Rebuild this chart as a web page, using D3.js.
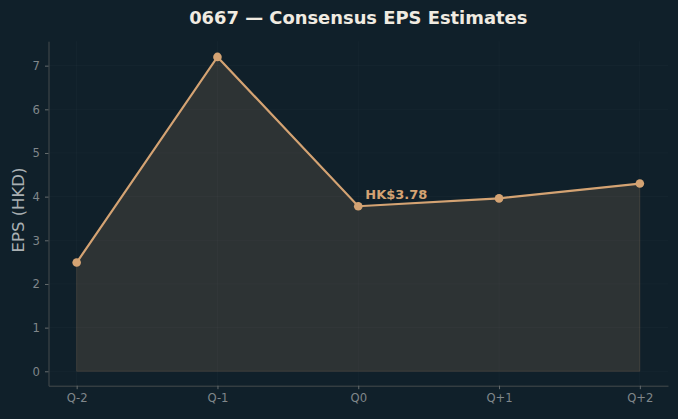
<!DOCTYPE html>
<html>
<head>
<meta charset="utf-8">
<script src="https://cdn.jsdelivr.net/npm/d3@7"></script>
<style>
  body { margin: 0; background: #10202a; }
  svg { display: block; font-family: "DejaVu Sans", sans-serif; }
</style>
</head>
<body>
<svg id="chart" width="678" height="419"></svg>
<script>
// chart data
const quarters = ["Q-2", "Q-1", "Q0", "Q+1", "Q+2"];
const epsValues = [2.49, 7.2, 3.78, 3.96, 4.30];
const yTicks = [0, 1, 2, 3, 4, 5, 6, 7];
const highlightIndex = 2;
const highlightLabel = "HK$3.78";

let svg = d3.select("#chart");
let plotLeft = 48.5, plotRight = 668, plotTop = 41.2, plotBottom = 385.7;
let lineColor = "#d4a373";

let xScale = d3.scaleLinear()
    .domain([-0.2, quarters.length - 1 + 0.2])
    .range([plotLeft, plotRight]);

let yMax = d3.max(epsValues);
let yScale = d3.scaleLinear()
    .domain([-0.33, yMax + 0.36])
    .range([plotBottom, plotTop]);

svg.append("rect")
    .attr("width", 678).attr("height", 419)
    .attr("fill", "#10202a");

// grid
svg.append("g")
    .selectAll("line")
    .data(yTicks)
    .enter().append("line")
    .attr("x1", plotLeft).attr("x2", plotRight)
    .attr("y1", d => yScale(d)).attr("y2", d => yScale(d))
    .attr("stroke", "#ffffff").attr("stroke-opacity", 0.025);
svg.append("g")
    .selectAll("line")
    .data(quarters)
    .enter().append("line")
    .attr("x1", (d, i) => xScale(i)).attr("x2", (d, i) => xScale(i))
    .attr("y1", plotTop).attr("y2", plotBottom)
    .attr("stroke", "#ffffff").attr("stroke-opacity", 0.025);

// area under line
let area = d3.area()
    .x((d, i) => xScale(i))
    .y0(yScale(0))
    .y1(d => yScale(d));
svg.append("path")
    .datum(epsValues)
    .attr("d", area)
    .attr("fill", lineColor).attr("fill-opacity", 0.15)
    .attr("stroke", lineColor).attr("stroke-opacity", 0.15);

// line
let line = d3.line()
    .x((d, i) => xScale(i))
    .y(d => yScale(d));
svg.append("path")
    .datum(epsValues)
    .attr("d", line)
    .attr("fill", "none")
    .attr("stroke", lineColor)
    .attr("stroke-width", 2.2);

svg.selectAll("circle")
    .data(epsValues)
    .enter().append("circle")
    .attr("cx", (d, i) => xScale(i))
    .attr("cy", d => yScale(d))
    .attr("r", 4.3)
    .attr("fill", lineColor);

// annotation
svg.append("text")
    .attr("x", xScale(highlightIndex) + 7)
    .attr("y", yScale(epsValues[highlightIndex]) - 7.5)
    .attr("fill", lineColor)
    .attr("font-size", 13)
    .attr("font-weight", "bold")
    .text(highlightLabel);

// axes
let xAxis = svg.append("g")
    .attr("transform", `translate(0,${plotBottom})`)
    .call(d3.axisBottom(xScale)
        .tickValues(d3.range(quarters.length))
        .tickFormat(i => quarters[i])
        .tickSize(3.5).tickPadding(5).tickSizeOuter(0));
let yAxis = svg.append("g")
    .attr("transform", `translate(${plotLeft},0)`)
    .call(d3.axisLeft(yScale)
        .tickValues(yTicks)
        .tickSize(3.5).tickPadding(5).tickSizeOuter(0));

[xAxis, yAxis].forEach(ax => {
    ax.select(".domain").attr("stroke", "#444a4c").attr("stroke-width", 1);
    ax.selectAll(".tick line").attr("stroke", "#666c6e");
    ax.selectAll(".tick text")
        .attr("fill", "#80878b")
        .attr("font-size", 11.6)
        .attr("font-family", "DejaVu Sans, sans-serif");
});

// labels
svg.append("text")
    .attr("transform", "rotate(-90)")
    .attr("x", -210)
    .attr("y", 23.5)
    .attr("text-anchor", "middle")
    .attr("fill", "#aab0b3")
    .attr("font-size", 16.5)
    .text("EPS (HKD)");

svg.append("text")
    .attr("x", (plotLeft + plotRight) / 2)
    .attr("y", 24)
    .attr("text-anchor", "middle")
    .attr("fill", "#f0ebe1")
    .attr("font-size", 17.9)
    .attr("font-weight", "bold")
    .text("0667 — Consensus EPS Estimates");
</script>
</body>
</html>
